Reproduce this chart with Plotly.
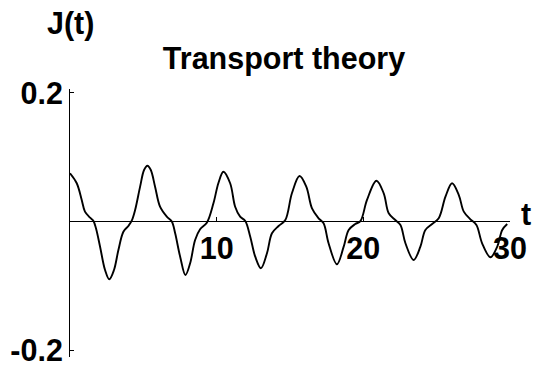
import plotly.graph_objects as go

# Current response J(t) sampled along the time axis
t_vals = [0.0, 0.46, 0.80, 1.02, 1.37, 1.59, 1.77, 2.05, 2.39, 2.68,
          3.00, 3.30, 3.64, 3.98, 4.21, 4.44, 4.78, 5.05, 5.28, 5.51,
          5.80, 6.14, 6.60, 6.94, 7.17, 7.51, 7.87, 8.19, 8.53, 8.87,
          9.33, 9.78, 10.12, 10.46, 10.92, 11.26, 11.60, 11.95, 12.29, 12.63,
          13.02, 13.43, 13.77, 14.22, 14.68, 15.13, 15.65, 16.11, 16.50, 16.95,
          17.29, 17.63, 18.20, 18.66, 19.00, 19.45, 19.80, 20.25, 20.89, 21.39,
          21.73, 22.18, 22.53, 22.87, 23.43, 23.89, 24.23, 24.69, 25.14, 25.60,
          26.05, 26.51, 26.85, 27.30, 27.71, 28.10, 28.67, 29.13, 29.47, 29.81]
j_vals = [0.075, 0.0595, 0.0335, 0.0153, 0.0059, 0.0012, -0.0106, -0.0392, -0.0755, -0.090,
          -0.0755, -0.0444, -0.0159, -0.0070, 0.0012, 0.0179, 0.0542, 0.0802, 0.0868, 0.0802,
          0.0542, 0.0230, 0.0075, 0.0, -0.0184, -0.0548, -0.0833, -0.0651, -0.0288, -0.0121,
          -0.0019, 0.0283, 0.0600, 0.0775, 0.0595, 0.0230, 0.0075, 0.0008, -0.0237, -0.0548,
          -0.0728, -0.0495, -0.0184, -0.0070, 0.0023, 0.0439, 0.0708, 0.0542, 0.0205, 0.0050,
          -0.0028, -0.0339, -0.0666, -0.0392, -0.0132, -0.0039, 0.0005, 0.0335, 0.0635, 0.0439,
          0.0128, 0.0023, -0.0054, -0.0339, -0.0599, -0.0392, -0.0132, -0.0039, 0.0050, 0.0386,
          0.0595, 0.0412, 0.0153, 0.0034, -0.0054, -0.0339, -0.0557, -0.0392, -0.0132, -0.0039]

x_ticks = [10, 20, 30]
x_tick_text = ["10", "20", "30"]
y_ticks = [-0.2, 0.2]
y_tick_text = ["-0.2", "0.2"]

FONT = "Liberation Sans, Arial, sans-serif"
TXT = 30.5

Y_MIN, Y_MAX = -0.2109, 0.2062
PLOT_H = 268

fig = go.Figure()
fig.add_trace(go.Scatter(
    x=t_vals, y=j_vals, mode="lines",
    line=dict(color="black", width=1.9, shape="spline", smoothing=1.0),
    hoverinfo="skip", showlegend=False,
))

fig.update_layout(
    width=535, height=371,
    margin=dict(l=70, r=25, t=89, b=14, autoexpand=False),
    paper_bgcolor="white", plot_bgcolor="white",
    title=dict(text="Transport theory", x=284 / 535, xref="container", xanchor="center",
               y=1 - 58 / 371, yref="container", yanchor="middle",
               font=dict(family=FONT, size=TXT, color="black", weight="bold")),
    xaxis=dict(
        range=[0, 30], showgrid=False, zeroline=False, automargin=False,
        showline=True, linecolor="black", linewidth=1,
        anchor="free", position=-Y_MIN / (Y_MAX - Y_MIN),
        tickmode="array", tickvals=x_ticks, ticktext=x_tick_text,
        ticks="inside", ticklen=4, tickcolor="black", tickwidth=1,
        tickfont=dict(family=FONT, size=TXT, color="black", weight="bold"),
        ticklabelstandoff=0,
    ),
    yaxis=dict(
        range=[Y_MIN, Y_MAX], showgrid=False, zeroline=False, automargin=False,
        showline=True, linecolor="black", linewidth=1,
        tickmode="array", tickvals=y_ticks, ticktext=y_tick_text,
        ticks="inside", ticklen=4, tickcolor="black", tickwidth=1,
        tickfont=dict(family=FONT, size=TXT, color="black", weight="bold"),
        ticklabelstandoff=0,
    ),
    annotations=[
        dict(text="J(t)", xref="paper", yref="paper", x=(70 - 70) / 439.5,
             y=(357 - 24) / PLOT_H, xanchor="center", yanchor="middle", showarrow=False,
             font=dict(family=FONT, size=TXT, color="black", weight="bold")),
        dict(text="t", xref="paper", yref="paper", x=(525 - 70) / 439.5,
             y=(357 - 214) / PLOT_H, xanchor="center", yanchor="middle", showarrow=False,
             font=dict(family=FONT, size=TXT, color="black", weight="bold")),
    ],
)

fig.write_html("out.html")
